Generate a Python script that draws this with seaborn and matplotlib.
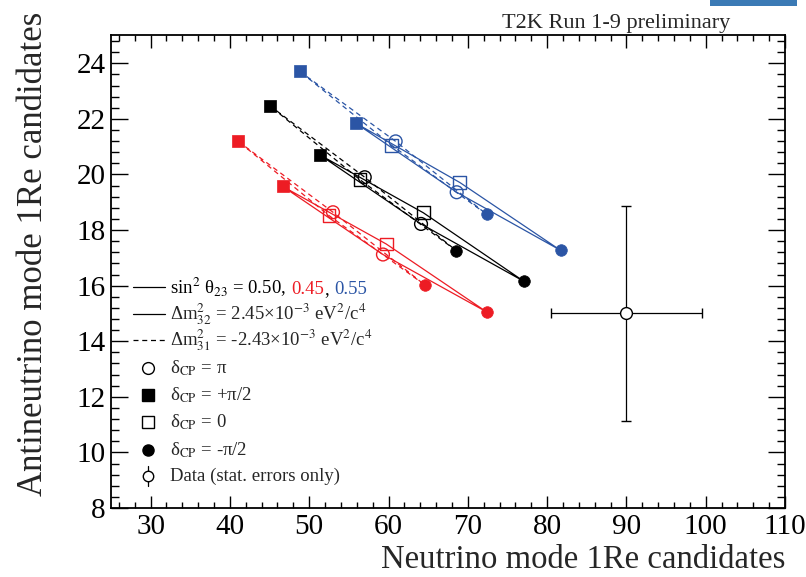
import numpy as np
import pandas as pd
import seaborn as sns
import matplotlib.pyplot as plt
from matplotlib.patches import Rectangle
from matplotlib.offsetbox import TextArea, HPacker, AnchoredOffsetbox

# delta_CP order around each contour: +pi/2 -> pi -> -pi/2 -> 0
DELTAS = ["+pi/2", "pi", "-pi/2", "0"]

# (sin^2 theta23, hierarchy) -> predicted neutrino / antineutrino 1Re candidates
nh_050_nu = [51.3, 64.1, 77.1, 64.4]
nh_050_anu = [20.71, 18.22, 16.15, 18.62]
ih_050_nu = [45.0, 57.0, 68.55, 56.4]
ih_050_anu = [22.48, 19.90, 17.26, 19.81]

nh_045_nu = [46.65, 59.3, 72.4, 59.7]
nh_045_anu = [19.57, 17.12, 15.05, 17.50]
ih_045_nu = [41.05, 53.0, 64.6, 52.5]
ih_045_anu = [21.19, 18.64, 16.02, 18.52]

nh_055_nu = [55.9, 68.6, 81.7, 69.0]
nh_055_anu = [21.84, 19.36, 17.27, 19.71]
ih_055_nu = [48.8, 60.9, 72.4, 60.4]
ih_055_anu = [23.71, 21.19, 18.56, 21.05]

# observed data (stat. errors only)
data_nu, data_anu = 90.0, 15.0
data_nu_err, data_anu_err = 9.49, 3.87

RED = "#ED1C24"
BLUE = "#2B55A5"
BLACK = "black"

curves = [
    ("0.50", "NH", nh_050_nu, nh_050_anu, BLACK),
    ("0.50", "IH", ih_050_nu, ih_050_anu, BLACK),
    ("0.45", "NH", nh_045_nu, nh_045_anu, RED),
    ("0.45", "IH", ih_045_nu, ih_045_anu, RED),
    ("0.55", "NH", nh_055_nu, nh_055_anu, BLUE),
    ("0.55", "IH", ih_055_nu, ih_055_anu, BLUE),
]

MARKERS = {
    "+pi/2": dict(marker="s", filled=True, s=64),
    "pi": dict(marker="o", filled=False, s=85),
    "0": dict(marker="s", filled=False, s=85),
    "-pi/2": dict(marker="o", filled=True, s=70),
}

sns.set_theme(style="ticks")
plt.rcParams["font.family"] = ["Liberation Serif", "DejaVu Serif"]
plt.rcParams["mathtext.fontset"] = "stix"

fig = plt.figure(figsize=(8.06, 5.77), dpi=100)
ax = fig.add_axes([0.1377, 0.1196, 0.8362, 0.8189])

DASH = (0, (4, 3))

for th, hier, nu, anu, col in curves:
    ls = "-" if hier == "NH" else DASH
    df = pd.DataFrame({"nu": nu + nu[:1], "anu": anu + anu[:1]})
    sns.lineplot(data=df, x="nu", y="anu", sort=False, estimator=None,
                 color=col, lw=0.9, linestyle=ls, ax=ax)
    pts = pd.DataFrame({"nu": nu, "anu": anu, "delta": DELTAS})
    for d, m in MARKERS.items():
        sub = pts[pts["delta"] == d]
        if m["filled"]:
            sns.scatterplot(data=sub, x="nu", y="anu", marker=m["marker"], s=m["s"],
                            color=col, edgecolor=col, linewidth=0.5, ax=ax, zorder=4)
        else:
            sns.scatterplot(data=sub, x="nu", y="anu", marker=m["marker"], s=m["s"],
                            facecolor="none", edgecolor=col, linewidth=1.0, ax=ax, zorder=4)

# data point
ax.errorbar([data_nu], [data_anu], xerr=[data_nu_err], yerr=[data_anu_err],
            fmt="o", mfc="white", mec="black", mew=1.0, ms=8.5, color="black",
            elinewidth=0.9, capsize=3.5, capthick=0.9, zorder=5)

ax.set_xlim(25, 110)
ax.set_ylim(8, 25)
ax.set_xticks(np.arange(30, 111, 10))
ax.set_xticks(np.arange(26, 111, 2), minor=True)
ax.set_yticks(np.arange(8, 25, 2))
ax.set_yticks(np.arange(8, 25.01, 0.4), minor=True)
ax.tick_params(which="both", direction="in", top=True, right=True,
               labelsize=21, width=1.0, color="black", labelcolor="black")
ax.tick_params(axis="x", which="major", length=9, pad=4)
ax.tick_params(axis="x", which="minor", length=4.5)
ax.tick_params(axis="y", which="major", length=12, pad=4)
ax.tick_params(axis="y", which="minor", length=6)
for sp in ax.spines.values():
    sp.set_linewidth(1.3)
    sp.set_color("black")
ax.set_xlabel("")
ax.set_ylabel("")

fig.text(785 / 806, 1 - 568 / 577, "Neutrino mode 1Re candidates",
         ha="right", va="baseline", fontsize=23.6)
fig.text(34 / 806, 1 - 12 / 577, "Antineutrino mode 1Re candidates",
         ha="center", va="top", rotation=90, fontsize=25)
fig.text(730 / 806, 1 - 28 / 577, "T2K Run 1-9 preliminary",
         ha="right", va="baseline", fontsize=16)
fig.add_artist(Rectangle((710 / 806, 1 - 6 / 577), 87 / 806, 6 / 577,
                         transform=fig.transFigure, color="#3B7AB5", lw=0))

# legend drawn by hand
LX0, LX1, LXM, LXT = 0.0326, 0.0801, 0.0549, 0.0875
rows = [0.4677, 0.4106, 0.3556, 0.2963, 0.2392, 0.182, 0.1228, 0.0677]
FS = 13.5

for y, ls in zip(rows[:3], ["-", "-", DASH]):
    ax.plot([LX0, LX1], [y, y], color="black", lw=0.9, linestyle=ls,
            transform=ax.transAxes, clip_on=False)

t_black = TextArea("sin$^2$ θ$_{23}$ = 0.50,", textprops=dict(fontsize=FS, color="black"))
t_red = HPacker(children=[TextArea("0.45", textprops=dict(fontsize=FS, color=RED)),
                          TextArea(",", textprops=dict(fontsize=FS, color="black"))],
                align="baseline", pad=0, sep=0)
t_blue = TextArea("0.55", textprops=dict(fontsize=FS, color=BLUE))
box = HPacker(children=[t_black, t_red, t_blue], align="baseline", pad=0, sep=4)
ax.add_artist(AnchoredOffsetbox(loc="center left", child=box, pad=0, borderpad=0,
                                frameon=False, bbox_to_anchor=(LXT, rows[0]),
                                bbox_transform=ax.transAxes))

ax.text(LXT, rows[1], "Δm$^2_{32}$ = 2.45×10$^{-3}$ eV$^2$/c$^4$",
        transform=ax.transAxes, va="center", fontsize=FS)
ax.text(LXT, rows[2], "Δm$^2_{31}$ = -2.43×10$^{-3}$ eV$^2$/c$^4$",
        transform=ax.transAxes, va="center", fontsize=FS)

leg_marks = [("o", "none", rows[3], "δ$_{\\rm CP}$ = π"),
             ("s", "black", rows[4], "δ$_{\\rm CP}$ = +π/2"),
             ("s", "none", rows[5], "δ$_{\\rm CP}$ = 0"),
             ("o", "black", rows[6], "δ$_{\\rm CP}$ = -π/2")]
for mk, fc, y, lab in leg_marks:
    ax.plot([LXM], [y], marker=mk, ms=8.5 if fc == "none" else 8, mfc=fc, mec="black",
            mew=1.0, ls="none", transform=ax.transAxes, clip_on=False)
    ax.text(LXT, y, lab, transform=ax.transAxes, va="center", fontsize=FS)

ax.plot([LXM, LXM], [rows[7] - 0.022, rows[7] + 0.022], color="black", lw=0.9,
        transform=ax.transAxes, clip_on=False)
ax.plot([LXM], [rows[7]], marker="o", ms=7.5, mfc="white", mec="black", mew=1.0,
        transform=ax.transAxes, clip_on=False)
ax.text(LXT, rows[7], "Data (stat. errors only)", transform=ax.transAxes,
        va="center", fontsize=FS)

fig.savefig("out.png", dpi=100)
